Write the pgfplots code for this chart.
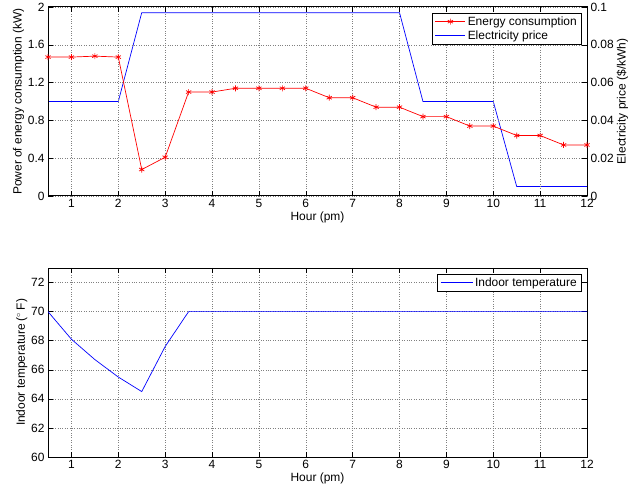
\documentclass[border=0pt]{standalone}
\usepackage{fontspec}
\setmainfont{Liberation Sans}
\usepackage{pgfplots}
\pgfplotsset{compat=1.18}
\definecolor{mblue}{rgb}{0,0,1}
\definecolor{mred}{rgb}{1,0,0}
\pgfplotsset{mystyle/.style={
  scale only axis, width=539bp, height=189bp,
  xmin=0.5, xmax=12, xtick={1,2,3,4,5,6,7,8,9,10,11,12},
  tick align=inside, major tick length=5bp,
  tick style={black, line width=0.5pt},
  axis line style={black, line width=1pt},
  ticklabel style={font=\fontsize{12}{14}\selectfont},
  label style={font=\fontsize{12}{14}\selectfont},
  /pgf/number format/assume math mode=true,
  legend style={font=\fontsize{12}{14}\selectfont, draw=black, line width=0.8pt, inner xsep=2.5pt, inner ysep=1.5pt},
  legend cell align=left,
}}
\pgfplotsset{
redleg/.style={legend image code/.code={\draw[color=mred, line width=0.7pt] (0cm,0cm) -- (1.06cm,0cm); \draw[color=mred, line width=0.7pt] plot[mark=asterisk, mark size=3pt] coordinates {(0.53cm,0cm)};}},
bluelegs/.style={legend image code/.code={\fill[fill=mblue, draw=none] (0cm,-0.35pt) rectangle (1.06cm,0.35pt);}},
bluelegl/.style={legend image code/.code={\draw[color=mblue, line width=0.7pt] (0cm,0cm) -- (1.13cm,0cm);}},
}
\begin{document}
\begin{tikzpicture}
\useasboundingbox (0,0) rectangle (628bp,493bp);
% top right axis: price
\begin{axis}[mystyle, at={(48bp,297bp)}, anchor=south west,
  axis x line=none, axis y line*=right,
  ymin=0, ymax=0.1, ytick={0,0.02,0.04,0.06,0.08,0.1},
  yticklabel style={/pgf/number format/fixed, /pgf/number format/precision=2},
  ylabel={Electricity price (\$/kWh)}, ylabel style={yshift=4pt},
  ]
\addplot[mblue, line width=0.7pt] coordinates {
(0.5,0.05)(1,0.05)(1.5,0.05)(2,0.05)(2.5,0.097)(3,0.097)(3.5,0.097)(4,0.097)
(4.5,0.097)(5,0.097)(5.5,0.097)(6,0.097)(6.5,0.097)(7,0.097)(7.5,0.097)(8,0.097)
(8.5,0.05)(9,0.05)(9.5,0.05)(10,0.05)(10.5,0.005)(11,0.005)(11.5,0.005)(12,0.005)};
\end{axis}
% top left axis: energy
\begin{axis}[mystyle, at={(48bp,297bp)}, anchor=south west,
  ymin=0, ymax=2, ytick={0,0.4,0.8,1.2,1.6,2},
  grid=major, grid style={dotted, gray, line width=0.5pt},
  xlabel={Hour (pm)}, ylabel={Power of energy consumption (kW)},
  xlabel style={yshift=3pt}, ylabel style={yshift=-3pt},
  yticklabel style={/pgf/number format/fixed, /pgf/number format/precision=1},
  legend style={at={(rel axis cs:0.99,0.97)}, anchor=north east},
  ]
\addplot[mred, line width=0.7pt, mark=asterisk, mark size=3pt, mark options={line width=0.7pt}, forget plot] coordinates {
(0.5,1.47)(1,1.47)(1.5,1.48)(2,1.47)(2.5,0.28)(3,0.41)(3.5,1.10)(4,1.10)
(4.5,1.14)(5,1.14)(5.5,1.14)(6,1.14)(6.5,1.04)(7,1.04)(7.5,0.94)(8,0.94)
(8.5,0.84)(9,0.84)(9.5,0.74)(10,0.74)(10.5,0.64)(11,0.64)(11.5,0.54)(12,0.54)};
\addlegendimage{mred, redleg}
\addlegendentry{Energy consumption}
\addlegendimage{mblue, bluelegs}
\addlegendentry{Electricity price}
\end{axis}
% bottom: temperature
\begin{axis}[mystyle, at={(48bp,36bp)}, anchor=south west,
  ymin=60, ymax=73, ytick={60,62,64,66,68,70,72},
  grid=major, grid style={dotted, gray, line width=0.5pt},
  xlabel={Hour (pm)}, ylabel={Indoor temperature ($^{\circ}$\,F)},
  xlabel style={yshift=3pt}, ylabel style={yshift=-3pt},
  legend style={at={(rel axis cs:0.99,0.97)}, anchor=north east},
  ]
\addplot[mblue, line width=0.7pt, bluelegl] coordinates {
(0.5,70)(1,68.1)(1.5,66.7)(2,65.5)(2.5,64.5)(3,67.6)(3.5,70)(4,70)(4.5,70)(5,70)
(5.5,70)(6,70)(6.5,70)(7,70)(7.5,70)(8,70)(8.5,70)(9,70)(9.5,70)(10,70)
(10.5,70)(11,70)(11.5,70)(12,70)};
\addlegendentry{Indoor temperature}
\end{axis}
\end{tikzpicture}
\end{document}
